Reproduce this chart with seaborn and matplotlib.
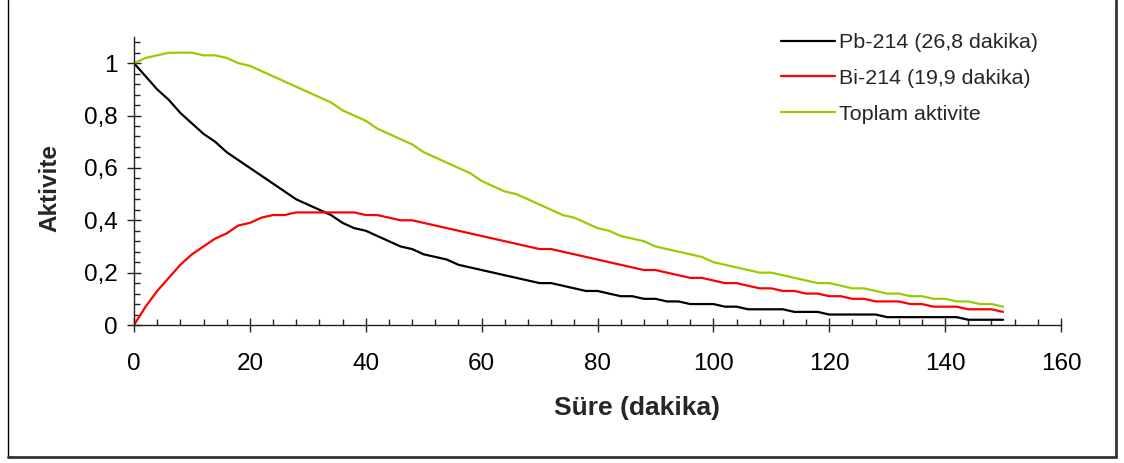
import matplotlib
matplotlib.use("Agg")
import matplotlib.pyplot as plt
from matplotlib.ticker import MultipleLocator, FuncFormatter
from matplotlib.lines import Line2D
import pandas as pd
import seaborn as sns

# Time axis (minutes) and activities relative to initial Pb-214 activity
time_min = list(range(0, 151, 2))

pb214 = [
    1.00, 0.95, 0.90, 0.86, 0.81, 0.77, 0.73, 0.70, 0.66, 0.63,
    0.60, 0.57, 0.54, 0.51, 0.48, 0.46, 0.44, 0.42, 0.39, 0.37,
    0.36, 0.34, 0.32, 0.30, 0.29, 0.27, 0.26, 0.25, 0.23, 0.22,
    0.21, 0.20, 0.19, 0.18, 0.17, 0.16, 0.16, 0.15, 0.14, 0.13,
    0.13, 0.12, 0.11, 0.11, 0.10, 0.10, 0.09, 0.09, 0.08, 0.08,
    0.08, 0.07, 0.07, 0.06, 0.06, 0.06, 0.06, 0.05, 0.05, 0.05,
    0.04, 0.04, 0.04, 0.04, 0.04, 0.03, 0.03, 0.03, 0.03, 0.03,
    0.03, 0.03, 0.02, 0.02, 0.02, 0.02,
]

bi214 = [
    0.00, 0.07, 0.13, 0.18, 0.23, 0.27, 0.30, 0.33, 0.35, 0.38,
    0.39, 0.41, 0.42, 0.42, 0.43, 0.43, 0.43, 0.43, 0.43, 0.43,
    0.42, 0.42, 0.41, 0.40, 0.40, 0.39, 0.38, 0.37, 0.36, 0.35,
    0.34, 0.33, 0.32, 0.31, 0.30, 0.29, 0.29, 0.28, 0.27, 0.26,
    0.25, 0.24, 0.23, 0.22, 0.21, 0.21, 0.20, 0.19, 0.18, 0.18,
    0.17, 0.16, 0.16, 0.15, 0.14, 0.14, 0.13, 0.13, 0.12, 0.12,
    0.11, 0.11, 0.10, 0.10, 0.09, 0.09, 0.09, 0.08, 0.08, 0.07,
    0.07, 0.07, 0.06, 0.06, 0.06, 0.05,
]

total = [
    1.00, 1.02, 1.03, 1.04, 1.04, 1.04, 1.03, 1.03, 1.02, 1.00,
    0.99, 0.97, 0.95, 0.93, 0.91, 0.89, 0.87, 0.85, 0.82, 0.80,
    0.78, 0.75, 0.73, 0.71, 0.69, 0.66, 0.64, 0.62, 0.60, 0.58,
    0.55, 0.53, 0.51, 0.50, 0.48, 0.46, 0.44, 0.42, 0.41, 0.39,
    0.37, 0.36, 0.34, 0.33, 0.32, 0.30, 0.29, 0.28, 0.27, 0.26,
    0.24, 0.23, 0.22, 0.21, 0.20, 0.20, 0.19, 0.18, 0.17, 0.16,
    0.16, 0.15, 0.14, 0.14, 0.13, 0.12, 0.12, 0.11, 0.11, 0.10,
    0.10, 0.09, 0.09, 0.08, 0.08, 0.07,
]

series_names = ["Pb-214 (26,8 dakika)", "Bi-214 (19,9 dakika)", "Toplam aktivite"]
series_colors = ["#000000", "#FF0000", "#99CC00"]

df = pd.concat(
    [
        pd.DataFrame({"t": time_min, "A": vals, "seri": name})
        for name, vals in zip(series_names, [pb214, bi214, total])
    ],
    ignore_index=True,
)

sns.set_style("ticks")
plt.rcParams["font.family"] = ["Liberation Sans", "DejaVu Sans"]

W, H = 1124, 463
fig = plt.figure(figsize=(W / 100, H / 100), dpi=100)
ax = fig.add_axes([134 / W, 1 - 325 / H, (1061 - 134) / W, (325 - 37) / H])

sns.lineplot(
    data=df, x="t", y="A", hue="seri", hue_order=series_names,
    palette=dict(zip(series_names, series_colors)),
    linewidth=1.6, ax=ax, legend=False,
)

ax.set_xlim(0, 160)
ax.set_ylim(0, 1.1)
ax.xaxis.set_major_locator(MultipleLocator(20))
ax.xaxis.set_minor_locator(MultipleLocator(4))
ax.yaxis.set_major_locator(MultipleLocator(0.2))
ax.yaxis.set_minor_locator(MultipleLocator(0.04))


def comma_fmt(v, pos):
    if abs(v - round(v)) < 1e-9:
        return f"{int(round(v))}"
    return f"{v:.1f}".replace(".", ",")


ax.xaxis.set_major_formatter(FuncFormatter(comma_fmt))
ax.yaxis.set_major_formatter(FuncFormatter(comma_fmt))

for side in ["top", "right"]:
    ax.spines[side].set_visible(False)
for side in ["left", "bottom"]:
    ax.spines[side].set_color("#222222")
    ax.spines[side].set_linewidth(1.0)

ax.tick_params(axis="both", which="major", direction="inout", length=10,
               width=1.0, color="#222222", labelsize=17.5, labelcolor="black")
ax.tick_params(axis="both", which="minor", direction="in", length=4,
               width=1.0, color="#222222")
ax.tick_params(axis="x", which="major", pad=15)
ax.tick_params(axis="y", which="major", pad=7)

ax.set_xlabel("Süre (dakika)", fontsize=19, fontweight="bold",
              ha="center", va="center")
ax.set_ylabel("Aktivite", fontsize=17.5, fontweight="bold",
              ha="center", va="center")
ax.xaxis.set_label_coords((637 - 134) / 927, (325 - 408) / 288)
ax.yaxis.set_label_coords((50 - 134) / 927, (325 - 188) / 288)

handles = [Line2D([0], [0], color=c, lw=1.6) for c in series_colors]
fig.legend(handles, series_names, loc="upper left",
           bbox_to_anchor=(762 / W, 1 - 14 / H), frameon=False,
           fontsize=15.4, handlelength=2.5, handletextpad=0.2,
           labelspacing=0.78)

# Outer frame of the figure
fig.add_artist(Line2D([8 / W, 8 / W], [6 / H, 1.0], transform=fig.transFigure,
                      color="black", lw=1.0))
fig.add_artist(Line2D([8 / W, 1116 / W], [6.5 / H, 6.5 / H],
                      transform=fig.transFigure, color="#333333", lw=2.0))
fig.add_artist(Line2D([1116 / W, 1116 / W], [6.5 / H, 1.0],
                      transform=fig.transFigure, color="#333333", lw=2.0))

fig.savefig("out.png", dpi=100, facecolor="white")
